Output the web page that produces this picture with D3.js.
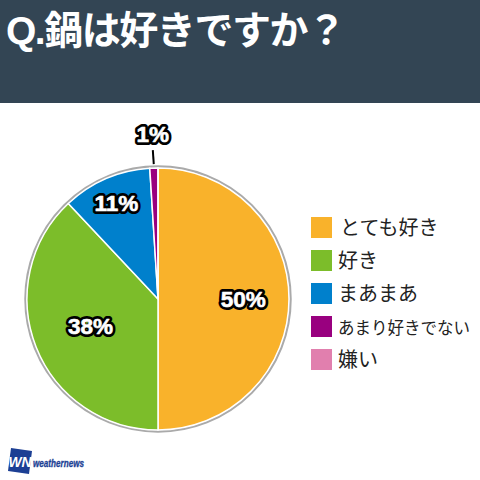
<!DOCTYPE html>
<html><head><meta charset="utf-8">
<script src="https://d3js.org/d3.v7.min.js"></script>
<style>html,body{margin:0;padding:0;background:#fff}svg{display:block}</style></head>
<body><svg id="c" width="480" height="480"></svg>
<script>
const title = "Q.鍋は好きですか？";
const categories = ["とても好き","好き","まあまあ","あまり好きでない","嫌い"];
const values = [50,38,11,1,0];
const colors = ["#f9b22b","#7cbd2a","#0080cc","#99007f","#e17fae"];
const labels = ["50%","38%","11%","1%",""];
const font = "'Noto Sans CJK JP','Liberation Sans',sans-serif";
const latin = "'Liberation Sans',sans-serif";

const svg = d3.select("#c");
svg.append("rect").attr("width",480).attr("height",103).attr("fill","#334554");
svg.append("text").attr("x",6).attr("y",44).attr("fill","#fff")
  .attr("font-family","'Liberation Sans','Noto Sans CJK JP',sans-serif").attr("font-size",39).attr("font-weight",700)
  .attr("textLength",340).text(title);

const cx=158, cy=299, R=131;
const g = svg.append("g").attr("transform",`translate(${cx},${cy})`);
g.append("circle").attr("r",R+1.5).attr("fill","#fff").attr("stroke","#aaa").attr("stroke-width",2.5);
const pie = d3.pie().sort(null)(values);
const arc = d3.arc().innerRadius(0).outerRadius(R);
g.selectAll("path.s").data(pie).join("path").attr("class","s")
  .attr("d",arc).attr("fill",(d,i)=>colors[i]).attr("stroke","#fff").attr("stroke-width",1.5);

const small = pie[3], a = (small.startAngle+small.endAngle)/2;
g.append("line").attr("stroke","#000").attr("stroke-width",2)
  .attr("x1",Math.sin(a)*(R+4)).attr("y1",-Math.cos(a)*(R+4))
  .attr("x2",Math.sin(a)*(R+18)-0.5).attr("y2",-Math.cos(a)*(R+18));

const labelR = [0.65,0.555,0.80,1.26];
pie.forEach((d,i)=>{
  if(!labels[i]) return;
  const m=(d.startAngle+d.endAngle)/2, r=R*labelR[i];
  const x=Math.sin(m)*r, y=-Math.cos(m)*r;
  [[6,"#000"],[0.6,"#fff"]].forEach(([sw,c])=>{
    g.append("text").attr("x",x).attr("y",y).attr("dy","0.36em").attr("text-anchor","middle")
      .attr("font-family",latin).attr("font-weight",700).attr("font-size",22.5)
      .attr("stroke",c).attr("stroke-width",sw).attr("stroke-linejoin","round").attr("fill",c).text(labels[i]);
  });
});

const y = d3.scalePoint().domain(categories).range([217,349]);
const leg = svg.selectAll("g.l").data(categories).join("g").attr("class","l")
  .attr("transform",d=>`translate(311,${y(d)})`);
leg.append("rect").attr("width",21).attr("height",21).attr("fill",(d,i)=>colors[i]);
leg.append("text").attr("x",(d,i)=>i==0?29:27).attr("y",18).attr("fill","#222").attr("font-family",font)
  .attr("font-size",(d,i)=>i==3?16.5:20).text(d=>d);

const logo = svg.append("g");
logo.append("path").attr("d","M11 448L32 451L29 474L8 471Z").attr("fill","#1c3f94");
logo.append("text").attr("x",8.5).attr("y",467).attr("fill","#fff").attr("font-family",latin)
  .attr("font-weight",700).attr("font-style","italic").attr("font-size",15).attr("textLength",23).attr("lengthAdjust","spacingAndGlyphs").text("WN");
logo.append("text").attr("x",33).attr("y",467).attr("fill","#1c3f94").attr("stroke","#1c3f94").attr("stroke-width",0.3).attr("font-family",latin)
  .attr("font-weight",700).attr("font-style","italic").attr("font-size",10).attr("textLength",51).attr("lengthAdjust","spacingAndGlyphs").text("weathernews");
</script></body></html>
